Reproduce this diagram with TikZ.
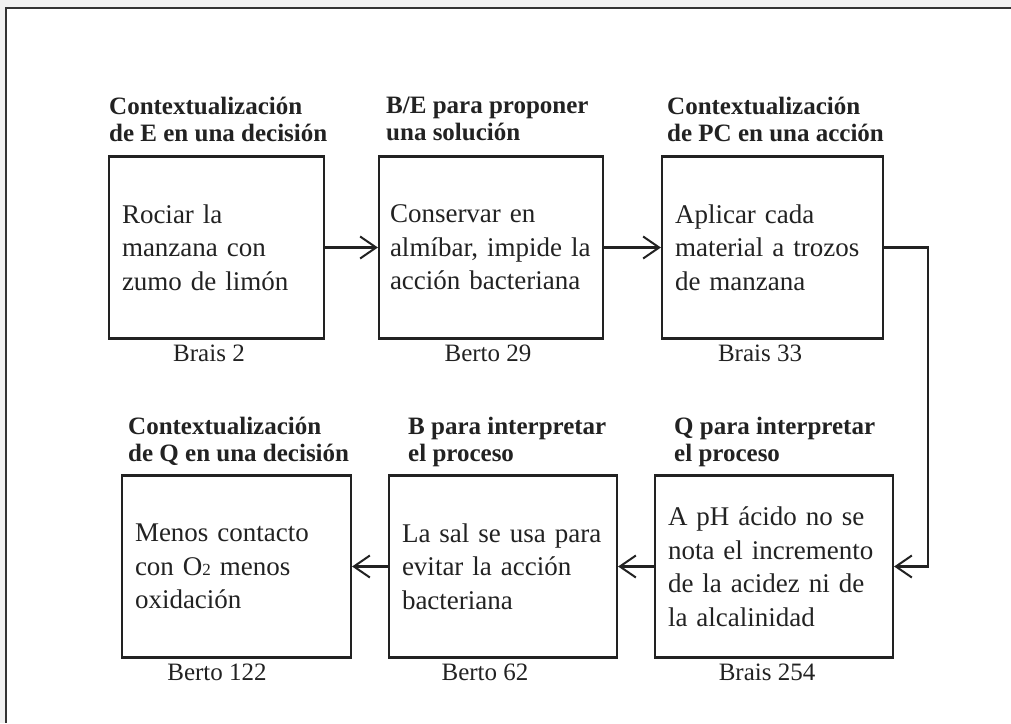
\documentclass[tikz,border=0pt]{standalone}
\usepackage{fontspec}
\setmainfont{Liberation Serif}
\usetikzlibrary{arrows.meta}
\definecolor{ink}{HTML}{222222}
\definecolor{margin}{HTML}{F1F1F1}
\definecolor{frame}{HTML}{333333}
\begin{document}
\begin{tikzpicture}[x=1pt,y=-1pt,
  box/.style={draw=ink,line width=2.2pt,rectangle,inner xsep=13pt,inner ysep=0pt,
    align=left,minimum height=182pt,font=\fontsize{27}{33.5}\selectfont,text=ink},
  head/.style={anchor=north west,inner sep=0pt,align=left,
    font=\bfseries\fontsize{25}{27}\selectfont,text=ink},
  who/.style={inner sep=0pt,font=\fontsize{25}{30}\selectfont,text=ink},
  flow/.style={draw=ink,line width=2.2pt,-{Straight Barb[length=16pt,width=22pt,line width=2pt]}}
]
\useasboundingbox (0,0) rectangle (1011,723);
\fill[margin] (0,0) rectangle (1011,723);
\fill[white] (6,8) rectangle (1011,723);
\draw[frame,line width=1.6pt] (1011,8) -- (6,8) -- (6,723);

% top row
\node[box,text width=189pt] (b1) at (216.5,247.5) {Rociar la\\manzana con\\zumo de limón};
\node[box,text width=202pt,inner xsep=11pt] (b2) at (491,247.5) {Conservar en\\almíbar, impide la\\acción bacteriana};
\node[box,text width=195pt] (b3) at (772.5,247.5) {Aplicar cada\\material a trozos\\de manzana};

\node[head] (h1) at (109,97) {Contextualización\\de E en una decisión};
\node[head] (h2) at (386,97) {B/E para proponer\\una solución};
\node[head] (h3) at (667,97) {Contextualización\\de PC en una acción};

\node[who] (w1) at (209,353) {Brais 2};
\node[who] (w2) at (488,353) {Berto 29};
\node[who] (w3) at (760,353) {Brais 33};

% bottom row
\node[box,text width=203pt] (b6) at (236.5,566.5) {Menos contacto\\con O{\fontsize{17}{17}\selectfont 2} menos\\oxidación};
\node[box,text width=202pt] (b5) at (503,566.5) {La sal se usa para\\evitar la acción\\bacteriana};
\node[box,text width=212pt] (b4) at (774,566.5) {A pH ácido no se\\nota el incremento\\de la acidez ni de\\la alcalinidad};

\node[head] (h6) at (128,417) {Contextualización\\de Q en una decisión};
\node[head] (h5) at (408,417) {B para interpretar\\el proceso};
\node[head] (h4) at (674,417) {Q para interpretar\\el proceso};

\node[who] (w6) at (217,672) {Berto 122};
\node[who] (w5) at (485,672) {Berto 62};
\node[who] (w4) at (767,672) {Brais 254};

% connectors
\draw[flow] (b1.east) -- (b2.west);
\draw[flow] (b2.east) -- (b3.west);
\coordinate (turn) at (928,247.5);
\draw[flow] (b3.east) -- (turn) |- (b4.east);
\draw[flow] (b4.west) -- (b5.east);
\draw[flow] (b5.west) -- (b6.east);
\end{tikzpicture}
\end{document}
